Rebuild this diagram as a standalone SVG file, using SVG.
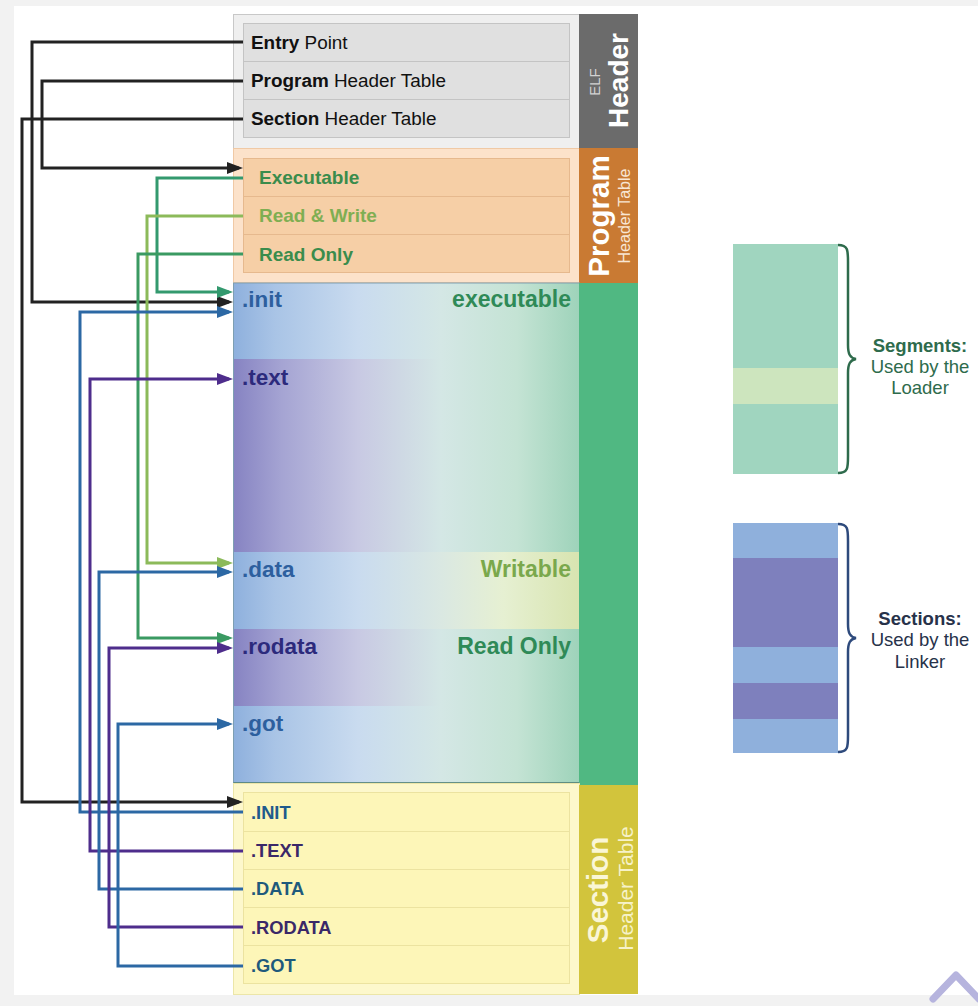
<svg xmlns="http://www.w3.org/2000/svg" width="978" height="1006" viewBox="0 0 978 1006">
<defs>
<style>
text{font-family:"Liberation Sans",Arial,sans-serif}
.row{fill:#e0e0e0;stroke:#c4c4c4;stroke-width:1}
.prow{fill:#f6cfa6;stroke:#e6b98e;stroke-width:1}
.srow{fill:#fdf6b8;stroke:#ece3a0;stroke-width:1}
.hdr{font-size:18.9px;fill:#111}
.ptx{font-size:19px;font-weight:bold}
.sec{font-size:22.5px;font-weight:bold}
.lbl{font-size:23px;font-weight:bold;text-anchor:end}
.shd{font-size:18.3px;font-weight:bold}
.cn{fill:none;stroke-width:3}
.leg{font-size:18.5px;text-anchor:middle}
</style>
<marker id="aK" viewBox="0 0 16 12" refX="12" refY="6" markerWidth="16" markerHeight="12" markerUnits="userSpaceOnUse" orient="auto"><path d="M0,0L16,6L0,12z" fill="#222"/></marker>
<marker id="aE" viewBox="0 0 16 12" refX="12" refY="6" markerWidth="16" markerHeight="12" markerUnits="userSpaceOnUse" orient="auto"><path d="M0,0L16,6L0,12z" fill="#33996e"/></marker>
<marker id="aW" viewBox="0 0 16 12" refX="12" refY="6" markerWidth="16" markerHeight="12" markerUnits="userSpaceOnUse" orient="auto"><path d="M0,0L16,6L0,12z" fill="#8cba5a"/></marker>
<marker id="aR" viewBox="0 0 16 12" refX="12" refY="6" markerWidth="16" markerHeight="12" markerUnits="userSpaceOnUse" orient="auto"><path d="M0,0L16,6L0,12z" fill="#3a9a62"/></marker>
<marker id="aB" viewBox="0 0 16 12" refX="12" refY="6" markerWidth="16" markerHeight="12" markerUnits="userSpaceOnUse" orient="auto"><path d="M0,0L16,6L0,12z" fill="#2c68a4"/></marker>
<marker id="aP" viewBox="0 0 16 12" refX="12" refY="6" markerWidth="16" markerHeight="12" markerUnits="userSpaceOnUse" orient="auto"><path d="M0,0L16,6L0,12z" fill="#4e2d8c"/></marker>
<linearGradient id="gBlue" x1="0" y1="0" x2="1" y2="0">
<stop offset="0" stop-color="#8eb0dd"/><stop offset="0.12" stop-color="#a9c4e6"/><stop offset="0.36" stop-color="#c9dbef"/><stop offset="0.6" stop-color="#d4e7e5"/><stop offset="0.82" stop-color="#c4e3d4"/><stop offset="1" stop-color="#9ed3ba"/>
</linearGradient>
<linearGradient id="gPurp" x1="0" y1="0" x2="1" y2="0">
<stop offset="0" stop-color="#8683c2"/><stop offset="0.14" stop-color="#a5a4d3"/><stop offset="0.36" stop-color="#c8c9e3"/><stop offset="0.6" stop-color="#d4e7e5"/><stop offset="0.82" stop-color="#c4e3d4"/><stop offset="1" stop-color="#9ed3ba"/>
</linearGradient>
<linearGradient id="gData" x1="0" y1="0" x2="1" y2="0">
<stop offset="0" stop-color="#8eb0dd"/><stop offset="0.12" stop-color="#a9c4e6"/><stop offset="0.36" stop-color="#c9dbef"/><stop offset="0.6" stop-color="#dae8e2"/><stop offset="0.78" stop-color="#e6f0d2"/><stop offset="1" stop-color="#d8e4b0"/>
</linearGradient>
</defs>

<rect x="0" y="0" width="978" height="1006" fill="#f2f2f2"/>
<rect x="14" y="6" width="964" height="989" fill="#ffffff"/>

<g id="elf-header">
<rect x="233.5" y="14.5" width="346" height="134" fill="#efefef" stroke="#c8c8c8"/>
<rect class="row" x="243.5" y="23.5" width="326" height="38"/>
<rect class="row" x="243.5" y="61.5" width="326" height="38"/>
<rect class="row" x="243.5" y="99.5" width="326" height="38"/>
<text class="hdr" x="251" y="49"><tspan font-weight="bold">Entry</tspan> Point</text>
<text class="hdr" x="251" y="87"><tspan font-weight="bold">Program</tspan> Header Table</text>
<text class="hdr" x="251" y="125"><tspan font-weight="bold">Section</tspan> Header Table</text>
<rect x="579" y="14" width="59" height="134" fill="#6b6b6b"/>
<text transform="translate(600,82) rotate(-90)" text-anchor="middle" font-size="15" fill="#d2d2d2">ELF</text>
<text transform="translate(628,80.5) rotate(-90)" text-anchor="middle" font-size="28" font-weight="bold" fill="#ffffff">Header</text>
</g>

<g id="program-header">
<rect x="233.5" y="148.5" width="346" height="134" fill="#fce2ca" stroke="#f0c9a5"/>
<rect class="prow" x="243.5" y="158.5" width="326" height="38"/>
<rect class="prow" x="243.5" y="196.5" width="326" height="38"/>
<rect class="prow" x="243.5" y="234.5" width="326" height="38"/>
<text class="ptx" x="259" y="184" fill="#3a8c4c">Executable</text>
<text class="ptx" x="259" y="222" fill="#7fae52">Read &amp; Write</text>
<text class="ptx" x="259" y="261" fill="#3a8c4c">Read Only</text>
<rect x="579" y="148" width="59" height="135" fill="#c97a33"/>
<text transform="translate(609,216) rotate(-90)" text-anchor="middle" font-size="29.5" font-weight="bold" fill="#ffffff">Program</text>
<text transform="translate(630,216) rotate(-90)" text-anchor="middle" font-size="16" fill="#f8e6d4">Header Table</text>
</g>

<g id="sections">
<rect x="233.5" y="283" width="346" height="76" fill="url(#gBlue)"/>
<rect x="233.5" y="359" width="346" height="193" fill="url(#gPurp)"/>
<rect x="233.5" y="552" width="346" height="77" fill="url(#gData)"/>
<rect x="233.5" y="629" width="346" height="77" fill="url(#gPurp)"/>
<rect x="233.5" y="706" width="346" height="77" fill="url(#gBlue)"/>
<rect x="233.5" y="283" width="346" height="500" fill="none" stroke="#7e9fb2" stroke-width="1"/>
<line x1="233.5" y1="783" x2="580" y2="783" stroke="#4f7f70" stroke-width="1.5"/>
<rect x="579" y="283" width="59" height="502" fill="#50b882"/>
<text class="sec" x="242" y="307" fill="#2d5f9e">.init</text>
<text class="sec" x="242" y="385" fill="#2c2a7c">.text</text>
<text class="sec" x="242" y="577" fill="#2d5f9e">.data</text>
<text class="sec" x="242" y="654" fill="#2c2a7c">.rodata</text>
<text class="sec" x="242" y="731" fill="#2d5f9e">.got</text>
<text class="lbl" x="571" y="307" fill="#2f8a57">executable</text>
<text class="lbl" x="571" y="577" fill="#7aa84c">Writable</text>
<text class="lbl" x="571" y="654" fill="#2f8a57">Read Only</text>
</g>

<g id="section-header">
<rect x="233.5" y="783.5" width="346" height="211" fill="#fdf8cc" stroke="#ece6a8"/>
<rect class="srow" x="243.5" y="792.5" width="326" height="39"/>
<rect class="srow" x="243.5" y="831.5" width="326" height="38"/>
<rect class="srow" x="243.5" y="869.5" width="326" height="38"/>
<rect class="srow" x="243.5" y="907.5" width="326" height="38"/>
<rect class="srow" x="243.5" y="945.5" width="326" height="38"/>
<text class="shd" x="251" y="819" fill="#1f5a8c">.INIT</text>
<text class="shd" x="251" y="857" fill="#3a2868">.TEXT</text>
<text class="shd" x="251" y="895" fill="#1f5a7c">.DATA</text>
<text class="shd" x="251" y="934" fill="#3a2868">.RODATA</text>
<text class="shd" x="251" y="972" fill="#1f5a7c">.GOT</text>
<rect x="579" y="785" width="59" height="209" fill="#d2c43c"/>
<text transform="translate(608,890) rotate(-90)" text-anchor="middle" font-size="29.5" font-weight="bold" fill="#faf6d6">Section</text>
<text transform="translate(633,888.5) rotate(-90)" text-anchor="middle" font-size="21" fill="#f6f2c8">Header Table</text>
</g>

<g id="connectors">
<path class="cn" stroke="#222" d="M243,42H32V302H229" marker-end="url(#aK)"/>
<path class="cn" stroke="#222" d="M243,81H42V168H239" marker-end="url(#aK)"/>
<path class="cn" stroke="#222" d="M243,119H22V802H239" marker-end="url(#aK)"/>
<path class="cn" stroke="#33996e" d="M243,178H157V292H229" marker-end="url(#aE)"/>
<path class="cn" stroke="#8cba5a" d="M243,216H147V563H229" marker-end="url(#aW)"/>
<path class="cn" stroke="#3a9a62" d="M243,254H138V638H229" marker-end="url(#aR)"/>
<path class="cn" stroke="#2c68a4" d="M243,812H80V312H229" marker-end="url(#aB)"/>
<path class="cn" stroke="#4e2d8c" d="M243,851H90V379H229" marker-end="url(#aP)"/>
<path class="cn" stroke="#2c68a4" d="M243,889H99V572H229" marker-end="url(#aB)"/>
<path class="cn" stroke="#4e2d8c" d="M243,927H109V648H229" marker-end="url(#aP)"/>
<path class="cn" stroke="#2c68a4" d="M243,966H118V724H229" marker-end="url(#aB)"/>
</g>

<g id="legend-segments">
<rect x="733" y="244" width="105" height="124" fill="#a0d5bf"/>
<rect x="733" y="368" width="105" height="36" fill="#cde5be"/>
<rect x="733" y="404" width="105" height="70" fill="#a0d5bf"/>
<path d="M838,245C848,245 848,250 848,262V345C848,354 850,358 856,359C850,360 848,364 848,373V456C848,468 848,473 838,473" fill="none" stroke="#2e6b4c" stroke-width="2.5"/>
<text class="leg" x="920" y="352" font-weight="bold" fill="#2e6b4c">Segments:</text>
<text class="leg" x="920" y="373" fill="#2e6b4c">Used by the</text>
<text class="leg" x="920" y="394" fill="#2e6b4c">Loader</text>
</g>

<g id="legend-sections">
<rect x="733" y="523" width="105" height="35" fill="#8fb0dc"/>
<rect x="733" y="558" width="105" height="89" fill="#7e80bd"/>
<rect x="733" y="647" width="105" height="36" fill="#8fb0dc"/>
<rect x="733" y="683" width="105" height="36" fill="#7e80bd"/>
<rect x="733" y="719" width="105" height="34" fill="#8fb0dc"/>
<path d="M838,524C848,524 848,529 848,541V624C848,633 850,637 856,638C850,639 848,643 848,652V735C848,747 848,752 838,752" fill="none" stroke="#2e4a7c" stroke-width="2.5"/>
<text class="leg" x="920" y="625" font-weight="bold" fill="#27324a">Sections:</text>
<text class="leg" x="920" y="646" fill="#27324a">Used by the</text>
<text class="leg" x="920" y="668" fill="#27324a">Linker</text>
</g>

<polyline points="933,999 956,975 979,999" fill="none" stroke="#b6b4de" stroke-width="7" stroke-linecap="round" stroke-linejoin="round"/>
</svg>
